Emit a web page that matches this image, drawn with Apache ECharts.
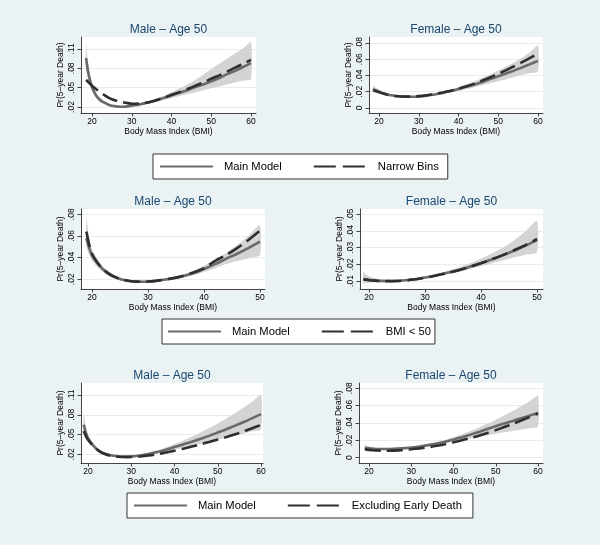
<!DOCTYPE html>
<html><head><meta charset="utf-8">
<script src="https://cdn.jsdelivr.net/npm/echarts@6/dist/echarts.min.js"></script>
<style>html,body{margin:0;padding:0;background:#eaf2f3}#c{width:600px;height:545px}</style>
</head><body><div id="c"></div>
<script>
// ---------- DATA ----------
const bmiRow1 = [18.5,19,19.5,20,21,22,23,24,25,26,27,28,29,30,32,34,36,38,40,42,44,46,48,50,52,54,56,58,60];
const bmiRow2 = [19,19.5,20,21,22,23,24,25,26,27,28,29,30,31,32,34,36,38,40,42,44,46,48,50];
const bmiRow3 = [19,19.5,20,21,22,23,24,25,26,27,28,29,30,32,34,36,38,40,42,44,46,48,50,52,54,56,58,60];

// Row 1 - Male (Main Model vs Narrow Bins)
const maleMain1   = [0.096,0.075,0.061,0.051,0.038,0.031,0.027,0.024,0.022,0.021,0.0205,0.0205,0.021,0.022,0.024,0.027,0.030,0.034,0.038,0.042,0.046,0.051,0.055,0.060,0.065,0.071,0.076,0.082,0.088];
const maleAlt1    = [0.062,0.059,0.056,0.053,0.048,0.043,0.039,0.035,0.032,0.030,0.028,0.027,0.026,0.025,0.0255,0.027,0.030,0.034,0.039,0.043,0.048,0.053,0.058,0.064,0.069,0.075,0.081,0.087,0.093];
const maleLow1    = [0.080,0.063,0.052,0.044,0.034,0.028,0.025,0.022,0.0205,0.0195,0.019,0.019,0.0195,0.0205,0.0225,0.025,0.028,0.031,0.034,0.037,0.040,0.043,0.046,0.049,0.052,0.055,0.058,0.061,0.063];
const maleHigh1   = [0.117,0.090,0.072,0.059,0.043,0.035,0.030,0.026,0.024,0.0225,0.022,0.022,0.0225,0.0235,0.026,0.029,0.033,0.037,0.043,0.049,0.055,0.062,0.070,0.079,0.087,0.095,0.103,0.111,0.120];
// Row 1 - Female
const femMain1    = [0.023,0.022,0.021,0.020,0.018,0.0167,0.0157,0.015,0.0145,0.0141,0.0139,0.0138,0.0139,0.0142,0.0152,0.0166,0.0185,0.0208,0.0234,0.026,0.029,0.032,0.0355,0.039,0.0425,0.046,0.050,0.054,0.058];
const femAlt1     = [0.022,0.0212,0.0203,0.0195,0.0178,0.0165,0.0155,0.0148,0.0144,0.0141,0.014,0.014,0.0142,0.0146,0.0157,0.0171,0.019,0.0212,0.0238,0.0268,0.030,0.0338,0.0378,0.042,0.0466,0.0514,0.0564,0.0616,0.067];
const femLow1     = [0.019,0.0188,0.0182,0.0175,0.0162,0.0152,0.0145,0.0139,0.0135,0.0132,0.013,0.013,0.0131,0.0134,0.0143,0.0155,0.0171,0.019,0.0211,0.0233,0.0256,0.028,0.0305,0.033,0.0355,0.038,0.0405,0.043,0.045];
const femHigh1    = [0.0275,0.0257,0.0242,0.0228,0.0202,0.0183,0.017,0.0161,0.0155,0.0151,0.0149,0.0148,0.0149,0.0152,0.0162,0.0178,0.020,0.0227,0.0258,0.0292,0.033,0.037,0.0414,0.046,0.051,0.056,0.062,0.069,0.077];

// Row 2 - Male (Main Model vs BMI < 50)
const maleMain2   = [0.058,0.049,0.042,0.0345,0.029,0.025,0.0222,0.0203,0.019,0.0182,0.0178,0.0177,0.0179,0.0183,0.0189,0.0204,0.0225,0.0255,0.0295,0.034,0.039,0.0438,0.049,0.0547];
const maleAlt2    = [0.064,0.052,0.0435,0.0352,0.0293,0.0252,0.0223,0.0203,0.019,0.0182,0.0178,0.0177,0.0179,0.0183,0.019,0.0206,0.0228,0.026,0.0303,0.037,0.0425,0.049,0.0565,0.065];
const maleLow2    = [0.050,0.043,0.037,0.031,0.0265,0.023,0.0207,0.019,0.0179,0.0172,0.0168,0.0168,0.017,0.0174,0.018,0.0193,0.0211,0.0236,0.0268,0.0302,0.034,0.0368,0.0395,0.0424];
const maleHigh2   = [0.077,0.058,0.048,0.0385,0.0318,0.0272,0.0238,0.0217,0.0202,0.0193,0.0188,0.0186,0.0188,0.0193,0.0199,0.0216,0.0241,0.0276,0.0325,0.0382,0.0445,0.052,0.0605,0.070];
// Row 2 - Female
const femMain2    = [0.0112,0.011,0.0107,0.0104,0.0101,0.010,0.010,0.0101,0.0103,0.0106,0.011,0.0115,0.0121,0.0127,0.0134,0.0149,0.0166,0.0186,0.0208,0.0231,0.0256,0.0283,0.0313,0.0345];
const femAlt2     = [0.011,0.0108,0.0105,0.0102,0.010,0.0099,0.0099,0.010,0.0102,0.0105,0.0109,0.0114,0.012,0.0126,0.0133,0.0148,0.0165,0.0185,0.0207,0.0231,0.0257,0.0286,0.0317,0.0352];
const femLow2     = [0.0085,0.0088,0.009,0.0092,0.0093,0.0093,0.0094,0.0096,0.0098,0.0101,0.0105,0.011,0.0115,0.0121,0.0127,0.014,0.0155,0.0171,0.0188,0.0206,0.0224,0.0242,0.0258,0.0273];
const femHigh2    = [0.0152,0.0138,0.0128,0.0116,0.011,0.0107,0.0106,0.0107,0.0109,0.0112,0.0116,0.0121,0.0127,0.0134,0.0142,0.016,0.0181,0.0206,0.0234,0.0266,0.0302,0.0345,0.040,0.046];

// Row 3 - Male (Main Model vs Excluding Early Death)
const maleMain3   = [0.065,0.053,0.0445,0.035,0.028,0.0237,0.0208,0.019,0.0177,0.0169,0.0165,0.0165,0.0168,0.0182,0.0205,0.0235,0.027,0.031,0.035,0.039,0.0435,0.048,0.053,0.058,0.0635,0.069,0.075,0.081];
const maleAlt3    = [0.0555,0.048,0.042,0.034,0.0275,0.023,0.0202,0.0183,0.017,0.0162,0.0158,0.0157,0.0158,0.0167,0.0182,0.0202,0.0227,0.0255,0.0285,0.0318,0.0352,0.0388,0.0425,0.0463,0.0503,0.0548,0.0596,0.0645];
const maleLow3    = [0.055,0.046,0.040,0.0322,0.026,0.0223,0.0197,0.0181,0.0169,0.0161,0.0157,0.0157,0.016,0.0171,0.019,0.0213,0.024,0.027,0.030,0.033,0.036,0.039,0.042,0.0451,0.0483,0.0515,0.0548,0.058];
const maleHigh3   = [0.081,0.062,0.050,0.038,0.0302,0.0252,0.022,0.020,0.0186,0.0177,0.0174,0.0174,0.0177,0.0194,0.0222,0.026,0.0305,0.0355,0.041,0.0468,0.053,0.0598,0.0668,0.0745,0.0825,0.091,0.100,0.110];
// Row 3 - Female
const femMain3    = [0.0115,0.0112,0.0108,0.0104,0.0101,0.010,0.010,0.0101,0.0103,0.0106,0.0109,0.0113,0.0118,0.013,0.0145,0.0163,0.0185,0.021,0.0237,0.0266,0.0297,0.033,0.0363,0.0394,0.0424,0.0455,0.0485,0.0515];
const femAlt3     = [0.0097,0.0093,0.009,0.0086,0.0083,0.0081,0.008,0.0081,0.0082,0.0085,0.0088,0.0092,0.0097,0.0108,0.0121,0.0137,0.0156,0.0177,0.020,0.0226,0.0254,0.0285,0.0318,0.0353,0.039,0.0429,0.0469,0.051];
const femLow3     = [0.009,0.0092,0.0093,0.0092,0.0091,0.0091,0.0092,0.0093,0.0095,0.0098,0.0101,0.0105,0.0109,0.012,0.0133,0.0148,0.0165,0.0184,0.0203,0.0222,0.024,0.0258,0.0275,0.0292,0.0308,0.0324,0.034,0.0356];
const femHigh3    = [0.0148,0.0138,0.0128,0.0118,0.0112,0.0109,0.0108,0.0109,0.0111,0.0114,0.0117,0.0121,0.0127,0.0141,0.0158,0.0179,0.0205,0.0236,0.027,0.0307,0.0347,0.039,0.0436,0.0485,0.0537,0.0593,0.0652,0.0715];

// Tick labels
const xTicks60 = [20,30,40,50,60];
const xTicks50 = [20,30,40,50];
const yTicksMale1 = [0.02,0.05,0.08,0.11];
const yTicksFem1  = [0,0.02,0.04,0.06,0.08];
const yTicksMale2 = [0.02,0.04,0.06,0.08];
const yTicksFem2  = [0.01,0.02,0.03,0.04,0.05];
const yTicksMale3 = [0.02,0.05,0.08,0.11];
const yTicksFem3  = [0,0.02,0.04,0.06,0.08];

const titles = ['Male – Age 50','Female – Age 50','Male – Age 50','Female – Age 50','Male – Age 50','Female – Age 50'];
const altNames = ['Narrow Bins','BMI < 50','Excluding Early Death'];
const mainName = 'Main Model';
const xName = 'Body Mass Index (BMI)';
const yName = 'Pr(5–year Death)';

// ---------- LAYOUT ----------
const panels = [
  {grid:{left:81,top:37,width:175,height:76},  x:[17.23,61.26], y:[0.0107,0.1286], xt:xTicks60, yt:yTicksMale1, bmi:bmiRow1, main:maleMain1, alt:maleAlt1, lo:maleLow1, hi:maleHigh1, row:0},
  {grid:{left:369,top:37,width:174,height:76}, x:[17.48,61.26], y:[-0.0062,0.0874], xt:xTicks60, yt:yTicksFem1, bmi:bmiRow1, main:femMain1, alt:femAlt1, lo:femLow1, hi:femHigh1, row:0},
  {grid:{left:81,top:209,width:184,height:80}, x:[18.04,50.9], y:[0.0110,0.0849], xt:xTicks50, yt:yTicksMale2, bmi:bmiRow2, main:maleMain2, alt:maleAlt2, lo:maleLow2, hi:maleHigh2, row:1},
  {grid:{left:360,top:209,width:183,height:80},x:[18.39,51.07], y:[0.0052,0.0532], xt:xTicks50, yt:yTicksFem2, bmi:bmiRow2, main:femMain2, alt:femAlt2, lo:femLow2, hi:femHigh2, row:1},
  {grid:{left:81,top:383,width:182,height:80}, x:[18.38,60.46], y:[0.0068,0.1282], xt:xTicks60, yt:yTicksMale3, bmi:bmiRow3, main:maleMain3, alt:maleAlt3, lo:maleLow3, hi:maleHigh3, row:2},
  {grid:{left:359,top:383,width:184,height:80},x:[17.63,61.18], y:[-0.0061,0.0861], xt:xTicks60, yt:yTicksFem3, bmi:bmiRow3, main:femMain3, alt:femAlt3, lo:femLow3, hi:femHigh3, row:2}
];

const FONT = '"Liberation Sans", Arial, Helvetica, sans-serif';
const fmtY = v => { if (Math.abs(v) < 1e-12) return '0'; return (+v.toFixed(3)).toString().replace(/^0\./, '.'); };

const grids = [], xAxes = [], yAxes = [], series = [], titleOpts = [];
panels.forEach((p, i) => {
  grids.push(Object.assign({show:true, backgroundColor:'#ffffff', borderWidth:0}, p.grid));
  titleOpts.push({text:titles[i], left:p.grid.left + p.grid.width/2, top:p.grid.top - 13, textAlign:'center', padding:0,
    textStyle:{fontFamily:FONT, fontSize:12, fontWeight:'normal', color:'#1a476f'}});
  xAxes.push({type:'value', gridIndex:i, min:p.x[0], max:p.x[1],
    name:xName, nameLocation:'middle', nameGap:13,
    nameTextStyle:{fontFamily:FONT, fontSize:8.5, color:'#000'},
    axisLine:{show:true, onZero:false, lineStyle:{color:'#444', width:1}},
    axisTick:{show:true, length:3.5, customValues:p.xt, lineStyle:{color:'#444'}},
    axisLabel:{customValues:p.xt, fontFamily:FONT, fontSize:8.5, color:'#000', margin:4},
    splitLine:{show:false}});
  yAxes.push({type:'value', gridIndex:i, min:p.y[0], max:p.y[1],
    name:yName, nameLocation:'middle', nameGap:16,
    nameTextStyle:{fontFamily:FONT, fontSize:8.5, color:'#000'},
    axisLine:{show:true, onZero:false, lineStyle:{color:'#444', width:1}},
    axisTick:{show:true, length:3.5, customValues:p.yt, lineStyle:{color:'#444'}},
    axisLabel:{customValues:p.yt, rotate:90, fontFamily:FONT, fontSize:8.5, color:'#000', margin:5, formatter:fmtY},
    splitLine:{show:true, lineStyle:{color:'#e6eef0', width:1}}});
  // confidence band: one polygon through the upper bound then back along the lower bound
  const bandRows = p.bmi.map((b, k) => [b, p.lo[k], p.hi[k]]);
  series.push({type:'custom', name:'ci'+i, xAxisIndex:i, yAxisIndex:i, data:bandRows, silent:true, z:1,
    encode:{x:0, y:[1,2]}, clip:true,
    renderItem:(params, api) => {
      if (params.dataIndex !== 0) return null;
      const top = bandRows.map(r => api.coord([r[0], r[2]]));
      const bot = bandRows.map(r => api.coord([r[0], r[1]])).reverse();
      const cs = params.coordSys;
      return {type:'polygon', shape:{points:top.concat(bot), smooth:0.2},
        style:{fill:'#d4d4d4', stroke:null},
        clipPath:{type:'rect', shape:{x:cs.x, y:cs.y, width:cs.width, height:cs.height}}};
    }});
  series.push({type:'line', name:mainName, xAxisIndex:i, yAxisIndex:i, data:p.bmi.map((b,k)=>[b,p.main[k]]),
    symbol:'none', smooth:0.3, itemStyle:{color:'#6a6a6a'}, lineStyle:{color:'#6a6a6a', width:2.6}, z:3});
  series.push({type:'line', name:altNames[p.row], xAxisIndex:i, yAxisIndex:i, data:p.bmi.map((b,k)=>[b,p.alt[k]]),
    symbol:'none', smooth:0.3, itemStyle:{color:'#2e2e2e'}, lineStyle:{color:'#2e2e2e', width:2.6, type:[16,6]}, z:4});
});

const legendBase = (left, top, altName, pad) => ({
  left, top, orient:'horizontal', selectedMode:false,
  data:[{name:mainName, itemStyle:{opacity:0}}, {name:altName, itemStyle:{opacity:0}, lineStyle:{type:[22,7]}}],
  itemWidth:53, itemHeight:12, itemGap:31, padding:pad,
  backgroundColor:'#ffffff', borderColor:'#333', borderWidth:1, borderRadius:0,
  textStyle:{fontFamily:FONT, fontSize:11.2, color:'#000', padding:[0,0,0,6]}
});

const chart = echarts.init(document.getElementById('c'), null, {renderer:'canvas'});
chart.setOption({
  backgroundColor:'#eaf2f3',
  animation:false,
  title:titleOpts,
  grid:grids, xAxis:xAxes, yAxis:yAxes, series,
  legend:[
    legendBase(153, 154, altNames[0], [7,9,7,6]),
    legendBase(162, 319, altNames[1], [7,4,7,5]),
    legendBase(127, 493, altNames[2], [7,11,7,6])
  ]
});
</script></body></html>
